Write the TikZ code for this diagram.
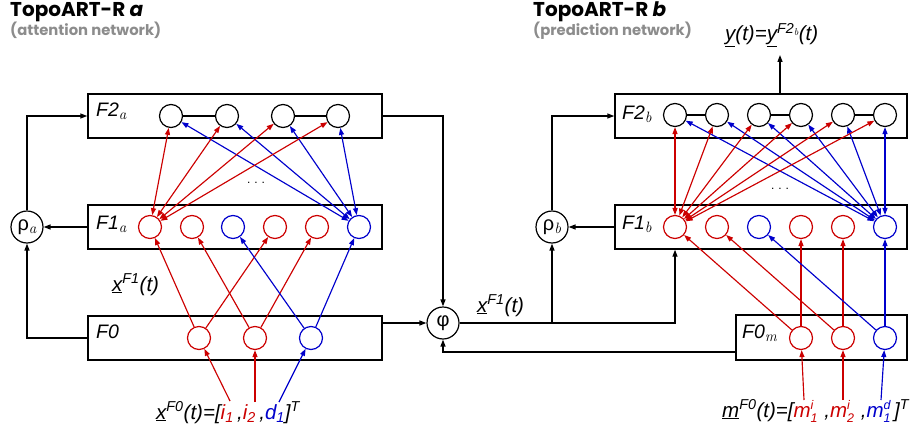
\documentclass[tikz,border=0pt]{standalone}
\usepackage{fontspec}
\setmainfont{Liberation Sans}
\newfontfamily\titlefont{Poppins}
\newfontfamily\lmr{Latin Modern Roman}
\usetikzlibrary{arrows.meta}
\definecolor{myred}{RGB}{204,0,0}
\definecolor{myblue}{RGB}{0,0,204}
\definecolor{subgray}{RGB}{140,140,140}
\newcommand\supsub[2]{\rlap{\raisebox{8pt}{\fontsize{12.5}{12.5}\selectfont #1}}\raisebox{-5pt}{\fontsize{12.5}{12.5}\selectfont #2}}
\newcommand\msub[1]{\raisebox{-3.5pt}{\lmr\itshape\fontsize{15}{15}\selectfont #1}}
\newcommand\mssub[1]{\raisebox{-2pt}{\lmr\itshape\fontsize{10}{10}\selectfont #1}}
\begin{document}
\begin{tikzpicture}[x=1pt,y=-1pt,
  >={Triangle[length=7pt,width=5pt]},
  layer/.style={draw,line width=1.4pt,minimum height=44pt,inner sep=0},
  neuron/.style={circle,draw,line width=1.2pt,minimum size=23pt,inner sep=0},
  rn/.style={neuron,draw=myred},
  bn/.style={neuron,draw=myblue},
  kn/.style={neuron,draw=black},
  ctrl/.style={circle,draw,line width=1.2pt,minimum size=32pt,inner sep=0,font=\fontsize{20}{22}\selectfont},
  lab/.style={font=\fontsize{19.5}{21}\selectfont\itshape,inner sep=0,anchor=base west},
  eq/.style={font=\fontsize{20.5}{22}\selectfont\itshape,inner sep=0,anchor=base west},
  title/.style={font=\fontsize{20}{22}\titlefont\bfseries,inner sep=0,anchor=base west},
  subtitle/.style={font=\fontsize{14.8}{16}\titlefont\bfseries,text=subgray,inner sep=0,anchor=base west},
  conn/.style={line width=1.3pt,->},
  rc/.style={line width=1.15pt,draw=myred},
  bc/.style={line width=1.15pt,draw=myblue},
  kc/.style={line width=1.3pt}
]
\useasboundingbox (0,0) rectangle (912,436);

% titles
\node[title] (ta) at (10,17) {TopoART-R \textit{a}};
\node[subtitle] (sa) at (10,36) {(attention network)};
\node[title] (tb) at (533,17) {TopoART-R \textit{b}};
\node[subtitle] (sb) at (533,36) {(prediction network)};

% ---------- left network ----------
\node[layer,minimum width=294pt] (F2a) at (235,116) {};
\node[layer,minimum width=294pt] (F1a) at (235,227) {};
\node[layer,minimum width=294pt] (F0a) at (235,338) {};
\node[lab] (lF2a) at (96,116) {F2\msub{a}};
\node[lab] (lF1a) at (96,229) {F1\msub{a}};
\node[lab] (lF0a) at (96,338) {F0};

\foreach \x [count=\k] in {171,227,283,338} \node[kn] (f2a\k) at (\x,116) {};
\node[rn] (f1a1) at (150,227) {};
\node[rn] (f1a2) at (192,227) {};
\node[bn] (f1a3) at (233,227) {};
\node[rn] (f1a4) at (275,227) {};
\node[rn] (f1a5) at (317,227) {};
\node[bn] (f1a6) at (359,227) {};
\node[rn] (f0a1) at (199,338) {};
\node[rn] (f0a2) at (255,338) {};
\node[bn] (f0a3) at (311,338) {};

\draw[kc] (f2a1) -- (f2a2);
\draw[kc] (f2a3) -- (f2a4);
\foreach \k in {1,...,4} {
  \draw[rc,<->] (f1a1) -- (f2a\k);
  \draw[bc,<->] (f1a6) -- (f2a\k);
}
\node[inner sep=0,font=\fontsize{12}{12}\selectfont] (dotsa) at (256,183) {.\,\,.\,\,.};

\draw[rc,->] (f0a1) -- (f1a1);
\draw[rc,->] (f0a1) -- (f1a4);
\draw[rc,->] (f0a2) -- (f1a2);
\draw[rc,->] (f0a2) -- (f1a5);
\draw[bc,->] (f0a3) -- (f1a3);
\draw[bc,->] (f0a3) -- (f1a6);

\node[eq] (xF1a) at (112,291) {\underline{x}\textsuperscript{F1}(t)};

\node[eq] (xF0) at (156,419) {\underline{x}\textsuperscript{F0}(t)=[\textcolor{myred}{i\textsubscript{1}}\,,\textcolor{myred}{i\textsubscript{2}}\,,\textcolor{myblue}{d\textsubscript{1}}]\textsuperscript{T}};
\coordinate (in1) at (230,401);
\coordinate (in2) at (255,402);
\coordinate (in3) at (279,402);
\draw[rc,->] (in1) -- (f0a1);
\draw[rc,->] (in2) -- (f0a2);
\draw[bc,->] (in3) -- (f0a3);

\node[ctrl] (rhoa) at (27,227) {ρ\msub{a}};
\draw[conn] (F1a.west) -- (rhoa.east);
\draw[conn] (rhoa.north) |- (F2a.west);
\draw[conn] (F0a.west) -| (rhoa.south);

% ---------- centre ----------
\node[ctrl] (phi) at (443,323) {φ};
\draw[conn] (F2a.east) -| (phi.north);
\draw[conn] (F0a.east |- phi) -- (phi.west);
\node[eq] (xF1m) at (477,312) {\underline{x}\textsuperscript{F1}(t)};

% ---------- right network ----------
\node[layer,minimum width=292pt] (F2b) at (761,116) {};
\node[layer,minimum width=292pt] (F1b) at (761,227) {};
\node[layer,minimum width=171pt,minimum height=45pt] (F0m) at (821.5,337.5) {};
\node[lab] (lF2b) at (622,119) {F2\msub{b}};
\node[lab] (lF1b) at (622,229) {F1\msub{b}};
\node[lab] (lF0m) at (742,338) {F0\msub{m}};

\foreach \x [count=\k] in {675,717,759,801,843,885} \node[kn] (f2b\k) at (\x,115) {};
\node[rn] (f1b1) at (675,227) {};
\node[rn] (f1b2) at (717,227) {};
\node[bn] (f1b3) at (759,227) {};
\node[rn] (f1b4) at (801,227) {};
\node[rn] (f1b5) at (843,227) {};
\node[bn] (f1b6) at (885,227) {};
\node[rn] (f0m1) at (801,338) {};
\node[rn] (f0m2) at (843,338) {};
\node[bn] (f0m3) at (885,338) {};

\draw[kc] (f2b1) -- (f2b2);
\draw[kc] (f2b3) -- (f2b4);
\draw[kc] (f2b5) -- (f2b6);
\foreach \k in {1,...,6} {
  \draw[rc,<->] (f1b1) -- (f2b\k);
  \draw[bc,<->] (f1b6) -- (f2b\k);
}
\node[inner sep=0,font=\fontsize{12}{12}\selectfont] (dotsb) at (780,189) {.\,\,.\,\,.};

\draw[rc,->] (f0m1) -- (f1b1);
\draw[rc,->] (f0m1) -- (f1b4);
\draw[rc,->] (f0m2) -- (f1b2);
\draw[rc,->] (f0m2) -- (f1b5);
\draw[bc,->] (f0m3) -- (f1b3);
\draw[bc,->] (f0m3) -- (f1b6);

\node[eq] (mF0) at (722,417) {\underline{m}\textsuperscript{F0}(t)=[\textcolor{myred}{m\supsub{i}{1}}\,\,,\textcolor{myred}{m\supsub{i}{2}}\,\,,\textcolor{myblue}{m\supsub{d}{1}}\,]\textsuperscript{T}};
\coordinate (min1) at (804,400);
\coordinate (min2) at (843,400);
\coordinate (min3) at (881,400);
\draw[rc,->] (min1) -- (f0m1);
\draw[rc,->] (min2) -- (f0m2);
\draw[bc,->] (min3) -- (f0m3);

\node[ctrl] (rhob) at (552,227) {ρ\msub{b}};
\draw[conn] (F1b.west) -- (rhob.east);
\draw[conn] (rhob.north) |- (F2b.west);
\draw[conn] (phi.east) -| (rhob.south);
\draw[conn] (phi.east) -| (F1b.south -| f1b1);
\coordinate (fbk) at (736,352);
\draw[conn] (fbk) -| (phi.south);

\node[eq] (ylab) at (725,41) {\underline{y}(t)=\underline{y}\textsuperscript{F2\mssub{b}}(t)};
\coordinate (yout) at (780,55);
\draw[conn] (F2b.north -| yout) -- (yout);
\end{tikzpicture}
\end{document}
